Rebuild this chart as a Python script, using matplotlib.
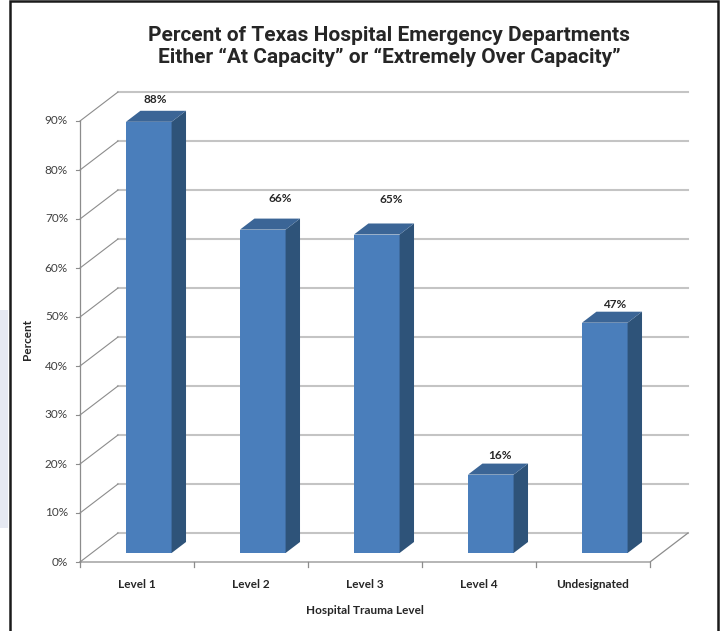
import matplotlib
matplotlib.use("Agg")
import matplotlib.pyplot as plt
from matplotlib.patches import Polygon, Rectangle
import numpy as np

categories = ["Level 1", "Level 2", "Level 3", "Level 4", "Undesignated"]
values = [88, 66, 65, 16, 47]
yticks = [0, 10, 20, 30, 40, 50, 60, 70, 80, 90]
# nudges (px) applied to the value labels, as placed on the original chart
label_dx = [6, 17, 14, 9, 10]
label_dy = [11, 20, 24, 8, 7]

title = "Percent of Texas Hospital Emergency Departments\nEither \u201cAt Capacity\u201d or \u201cExtremely Over Capacity\u201d"

W, H = 721, 631
fig = plt.figure(figsize=(W / 100, H / 100), dpi=100)
ax = fig.add_axes([0, 0, 1, 1])

# pixel geometry of the front plane: category 0 at x=80, 114 px per category,
# 0% at y=562, 4.9 px per percent
x0, cw = 80, 114.0
y0, pp = 562, 4.9
ax.set_xlim(-x0 / cw, (W - x0) / cw)
ax.set_ylim((y0 - H) / pp, y0 / pp)
ax.axis("off")

# depth offset of the back wall (38 px right, 29 px up)
dx, dy = 38 / cw, 29 / pp
f0, f1 = 0.31, 0.69   # bar depth range
bw = 0.40             # bar width in category units
n = len(categories)
ymax = yticks[-1]

body = ["Lato", "DejaVu Sans"]
fs = 8.5

# chart border and the strip of page at the left
fig.add_artist(Rectangle((0, (H - 528) / H), 8 / W, 218 / H, transform=fig.transFigure,
                         facecolor="#e6e9f2", edgecolor="none", zorder=0))
fig.add_artist(Rectangle((10 / W, -0.05), 708 / W, 1.05 - 1.5 / H, transform=fig.transFigure,
                         facecolor="none", edgecolor="#1a1a1a", lw=1.8, zorder=10))

# back wall gridlines and side wall diagonals
for t in yticks:
    ax.plot([dx, n + dx], [t + dy, t + dy], color="#c4c4c4", lw=1.5, zorder=1)
    ax.plot([0, dx], [t, t + dy], color="#8c8c8c", lw=0.8, zorder=1)
    ax.plot([-4 / cw, 0], [t, t], color="#8c8c8c", lw=0.8, zorder=1)
    ax.text(-12 / cw, t, "%d%%" % t, ha="right", va="center", fontsize=fs,
            color="#404040", family=body)

# floor outline and front axes
ax.plot([0, n, n + dx], [0, 0, dy], color="#8c8c8c", lw=0.9, zorder=1)
ax.plot([0, 0], [0, ymax], color="#8c8c8c", lw=0.9, zorder=1)
for i in range(n + 1):
    ax.plot([i, i], [0, -5 / pp], color="#8c8c8c", lw=0.9, zorder=1)

front_c, side_c, top_c = "#4a7ebb", "#2e5379", "#3b6596"
for i, v in enumerate(values):
    xl = i + 0.5 - bw / 2 + f0 * dx
    xr = xl + bw
    yb = f0 * dy
    ddx, ddy = (f1 - f0) * dx, (f1 - f0) * dy
    front = Polygon([(xl, yb), (xr, yb), (xr, yb + v), (xl, yb + v)],
                    closed=True, facecolor=front_c, edgecolor="none", zorder=3)
    side = Polygon([(xr, yb), (xr + ddx, yb + ddy), (xr + ddx, yb + ddy + v), (xr, yb + v)],
                   closed=True, facecolor=side_c, edgecolor="none", zorder=3)
    top = Polygon([(xl, yb + v), (xr, yb + v), (xr + ddx, yb + ddy + v), (xl + ddx, yb + ddy + v)],
                  closed=True, facecolor=top_c, edgecolor="none", zorder=3)
    for p in (front, side, top):
        ax.add_patch(p)
    ax.text((xl + xr) / 2 + label_dx[i] / cw, yb + ddy + v + label_dy[i] / pp, "%d%%" % v,
            ha="center", va="center", fontsize=fs, fontweight="bold", color="#262626",
            family=body, zorder=4)
    ax.text(i + 0.5, -22 / pp, categories[i], ha="center", va="center", fontsize=fs,
            fontweight="bold", color="#262626", family=body)

ax.text((365 - x0) / cw, (y0 - 610) / pp, "Hospital Trauma Level", ha="center", va="center",
        fontsize=fs, fontweight="bold", color="#262626", family=body)
ax.text((28 - x0) / cw, (y0 - 340) / pp, "Percent", ha="center", va="center", rotation=90,
        fontsize=fs, fontweight="bold", color="#262626", family=body)

fig.text(389 / W, 1 - 46.5 / H, title, ha="center", va="center", fontsize=15,
         fontweight="bold", color="#262626", linespacing=1.2,
         family=["Roboto", "DejaVu Sans"])

fig.savefig("out.png", dpi=100, facecolor="white")
